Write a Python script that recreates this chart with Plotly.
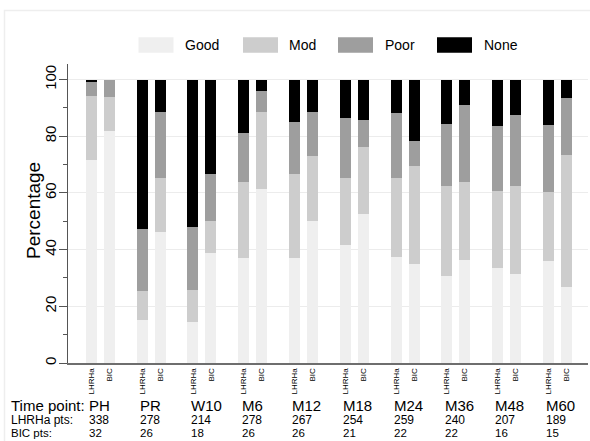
import plotly.graph_objects as go

# Response categories and assessment time points
categories = ["Good", "Mod", "Poor", "None"]
time_points = ["PH", "PR", "W10", "M6", "M12", "M18", "M24", "M36", "M48", "M60"]
arms = ["LHRHa", "BIC"]

# Patient numbers per time point
lhrha_pts = [338, 278, 214, 278, 267, 254, 259, 240, 207, 189]
bic_pts = [32, 26, 18, 26, 26, 21, 22, 22, 16, 15]

# Percentages per category, LHRHa arm
lhrha_good = [71.7, 15.3, 14.5, 37.0, 37.0, 41.7, 37.5, 30.7, 33.4, 36.1]
lhrha_mod = [22.6, 10.2, 11.4, 26.7, 29.6, 23.5, 27.9, 31.7, 27.4, 24.3]
lhrha_poor = [4.8, 21.7, 22.0, 17.3, 18.4, 21.2, 22.8, 21.9, 22.9, 23.6]
lhrha_none = [0.9, 52.8, 52.1, 19.0, 15.0, 13.6, 11.8, 15.7, 16.3, 16.0]

# Percentages per category, BIC arm
bic_good = [82.0, 46.1, 38.9, 61.5, 50.0, 52.4, 34.8, 36.4, 31.3, 26.7]
bic_mod = [11.9, 19.2, 11.1, 26.9, 23.1, 23.8, 34.7, 27.3, 31.2, 46.7]
bic_poor = [6.1, 23.1, 16.7, 7.7, 15.4, 9.5, 8.9, 27.3, 25.0, 20.0]
bic_none = [0.0, 11.6, 33.3, 3.9, 11.5, 14.3, 21.6, 9.0, 12.5, 6.6]

colors = {"Good": "#efefef", "Mod": "#cdcdcd", "Poor": "#9e9e9e", "None": "#000000"}
FONT = "Liberation Sans, Arial, Helvetica, sans-serif"

W, H = 590, 441
ML, MR, MT, MB = 68, 2, 64, 78
PW, PH_ = W - ML - MR, H - MT - MB

OFF = 0.177   # half distance between the two arms within a time point
BAR_W = 0.217

lhrha = {"Good": lhrha_good, "Mod": lhrha_mod, "Poor": lhrha_poor, "None": lhrha_none}
bic = {"Good": bic_good, "Mod": bic_mod, "Poor": bic_poor, "None": bic_none}

xs, tick_text = [], []
for i in range(len(time_points)):
    xs += [i - OFF, i + OFF]
    tick_text += arms

fig = go.Figure()
for cat in categories:
    ys = []
    for a, b in zip(lhrha[cat], bic[cat]):
        ys += [a, b]
    fig.add_trace(go.Bar(
        x=xs, y=ys, width=BAR_W, name=cat,
        marker=dict(color=colors[cat], line=dict(width=0)),
        showlegend=False,
    ))


def px_x(p):
    return (p - ML) / PW


def px_y(p):
    return (H - MB - p) / PH_


shapes = []
annotations = []

# Legend row
legend_items = [("Good", 138.5, 183), ("Mod", 243, 287), ("Poor", 338, 382.5), ("None", 437, 481.5)]
for cat, sx, tx in legend_items:
    shapes.append(dict(type="rect", xref="paper", yref="paper",
                       x0=px_x(sx), x1=px_x(sx + 35), y0=px_y(52.7), y1=px_y(37.3),
                       fillcolor=colors[cat], line=dict(width=0)))
    annotations.append(dict(text=cat, xref="paper", yref="paper", x=px_x(tx), y=px_y(45),
                            xanchor="left", yanchor="middle", showarrow=False,
                            font=dict(family=FONT, size=14, color="#000")))

# Faint outer frame
shapes.append(dict(type="rect", xref="paper", yref="paper",
                   x0=px_x(4.5), x1=px_x(620), y0=px_y(470), y1=px_y(10.5),
                   line=dict(color="#eeeeee", width=1.5), fillcolor="rgba(0,0,0,0)", layer="below"))

# Vertical axis title
annotations.append(dict(text="Percentage", xref="paper", yref="paper", x=px_x(33), y=px_y(211),
                        xanchor="center", yanchor="middle", textangle=-90, showarrow=False,
                        font=dict(family=FONT, size=19, color="#000")))

# Rows under the axis
rows = [("Time point:", 405, 15, time_points),
        ("LHRHa pts:", 420, 12, [str(v) for v in lhrha_pts]),
        ("BIC pts:", 433, 11.5, [str(v) for v in bic_pts])]
for label, ypx, size, values in rows:
    annotations.append(dict(text=label, xref="paper", yref="paper", x=px_x(10), y=px_y(ypx),
                            xanchor="left", yanchor="middle", showarrow=False, borderpad=0,
                            font=dict(family=FONT, size=size, color="#000")))
    for i, v in enumerate(values):
        annotations.append(dict(text=v, xref="x", yref="paper", x=i - 0.24, y=px_y(ypx),
                                xanchor="left", yanchor="middle", showarrow=False, borderpad=0,
                                font=dict(family=FONT, size=size, color="#000")))

fig.update_layout(
    width=W, height=H,
    margin=dict(l=ML, r=MR, t=MT, b=MB, pad=0),
    barmode="stack",
    bargap=0,
    plot_bgcolor="white", paper_bgcolor="white",
    font=dict(family=FONT, color="#000"),
    shapes=shapes,
    annotations=annotations,
)

fig.update_xaxes(
    range=[-0.638, 9.604],
    tickmode="array", tickvals=xs, ticktext=tick_text,
    tickangle=-90, tickfont=dict(family=FONT, size=8, color="#000"),
    ticks="", showgrid=False, zeroline=False,
    showline=True, linecolor="#6e6e6e", linewidth=2,
    automargin=False,
)

fig.update_yaxes(
    range=[0, 105.5],
    tickmode="array", tickvals=[0, 20, 40, 60, 80, 100],
    tickangle=-90, tickfont=dict(family=FONT, size=15, color="#000"),
    ticklabelstandoff=-3,
    ticks="outside", ticklen=8, tickcolor="#555", tickwidth=1,
    minor=dict(tickvals=[10, 30, 50, 70, 90], ticks="outside", ticklen=4, tickcolor="#555", showgrid=False),
    showgrid=True, gridcolor="#ececec", gridwidth=1,
    zeroline=False,
    showline=True, linecolor="#555", linewidth=1,
    automargin=False,
)

fig.write_html("out.html")
